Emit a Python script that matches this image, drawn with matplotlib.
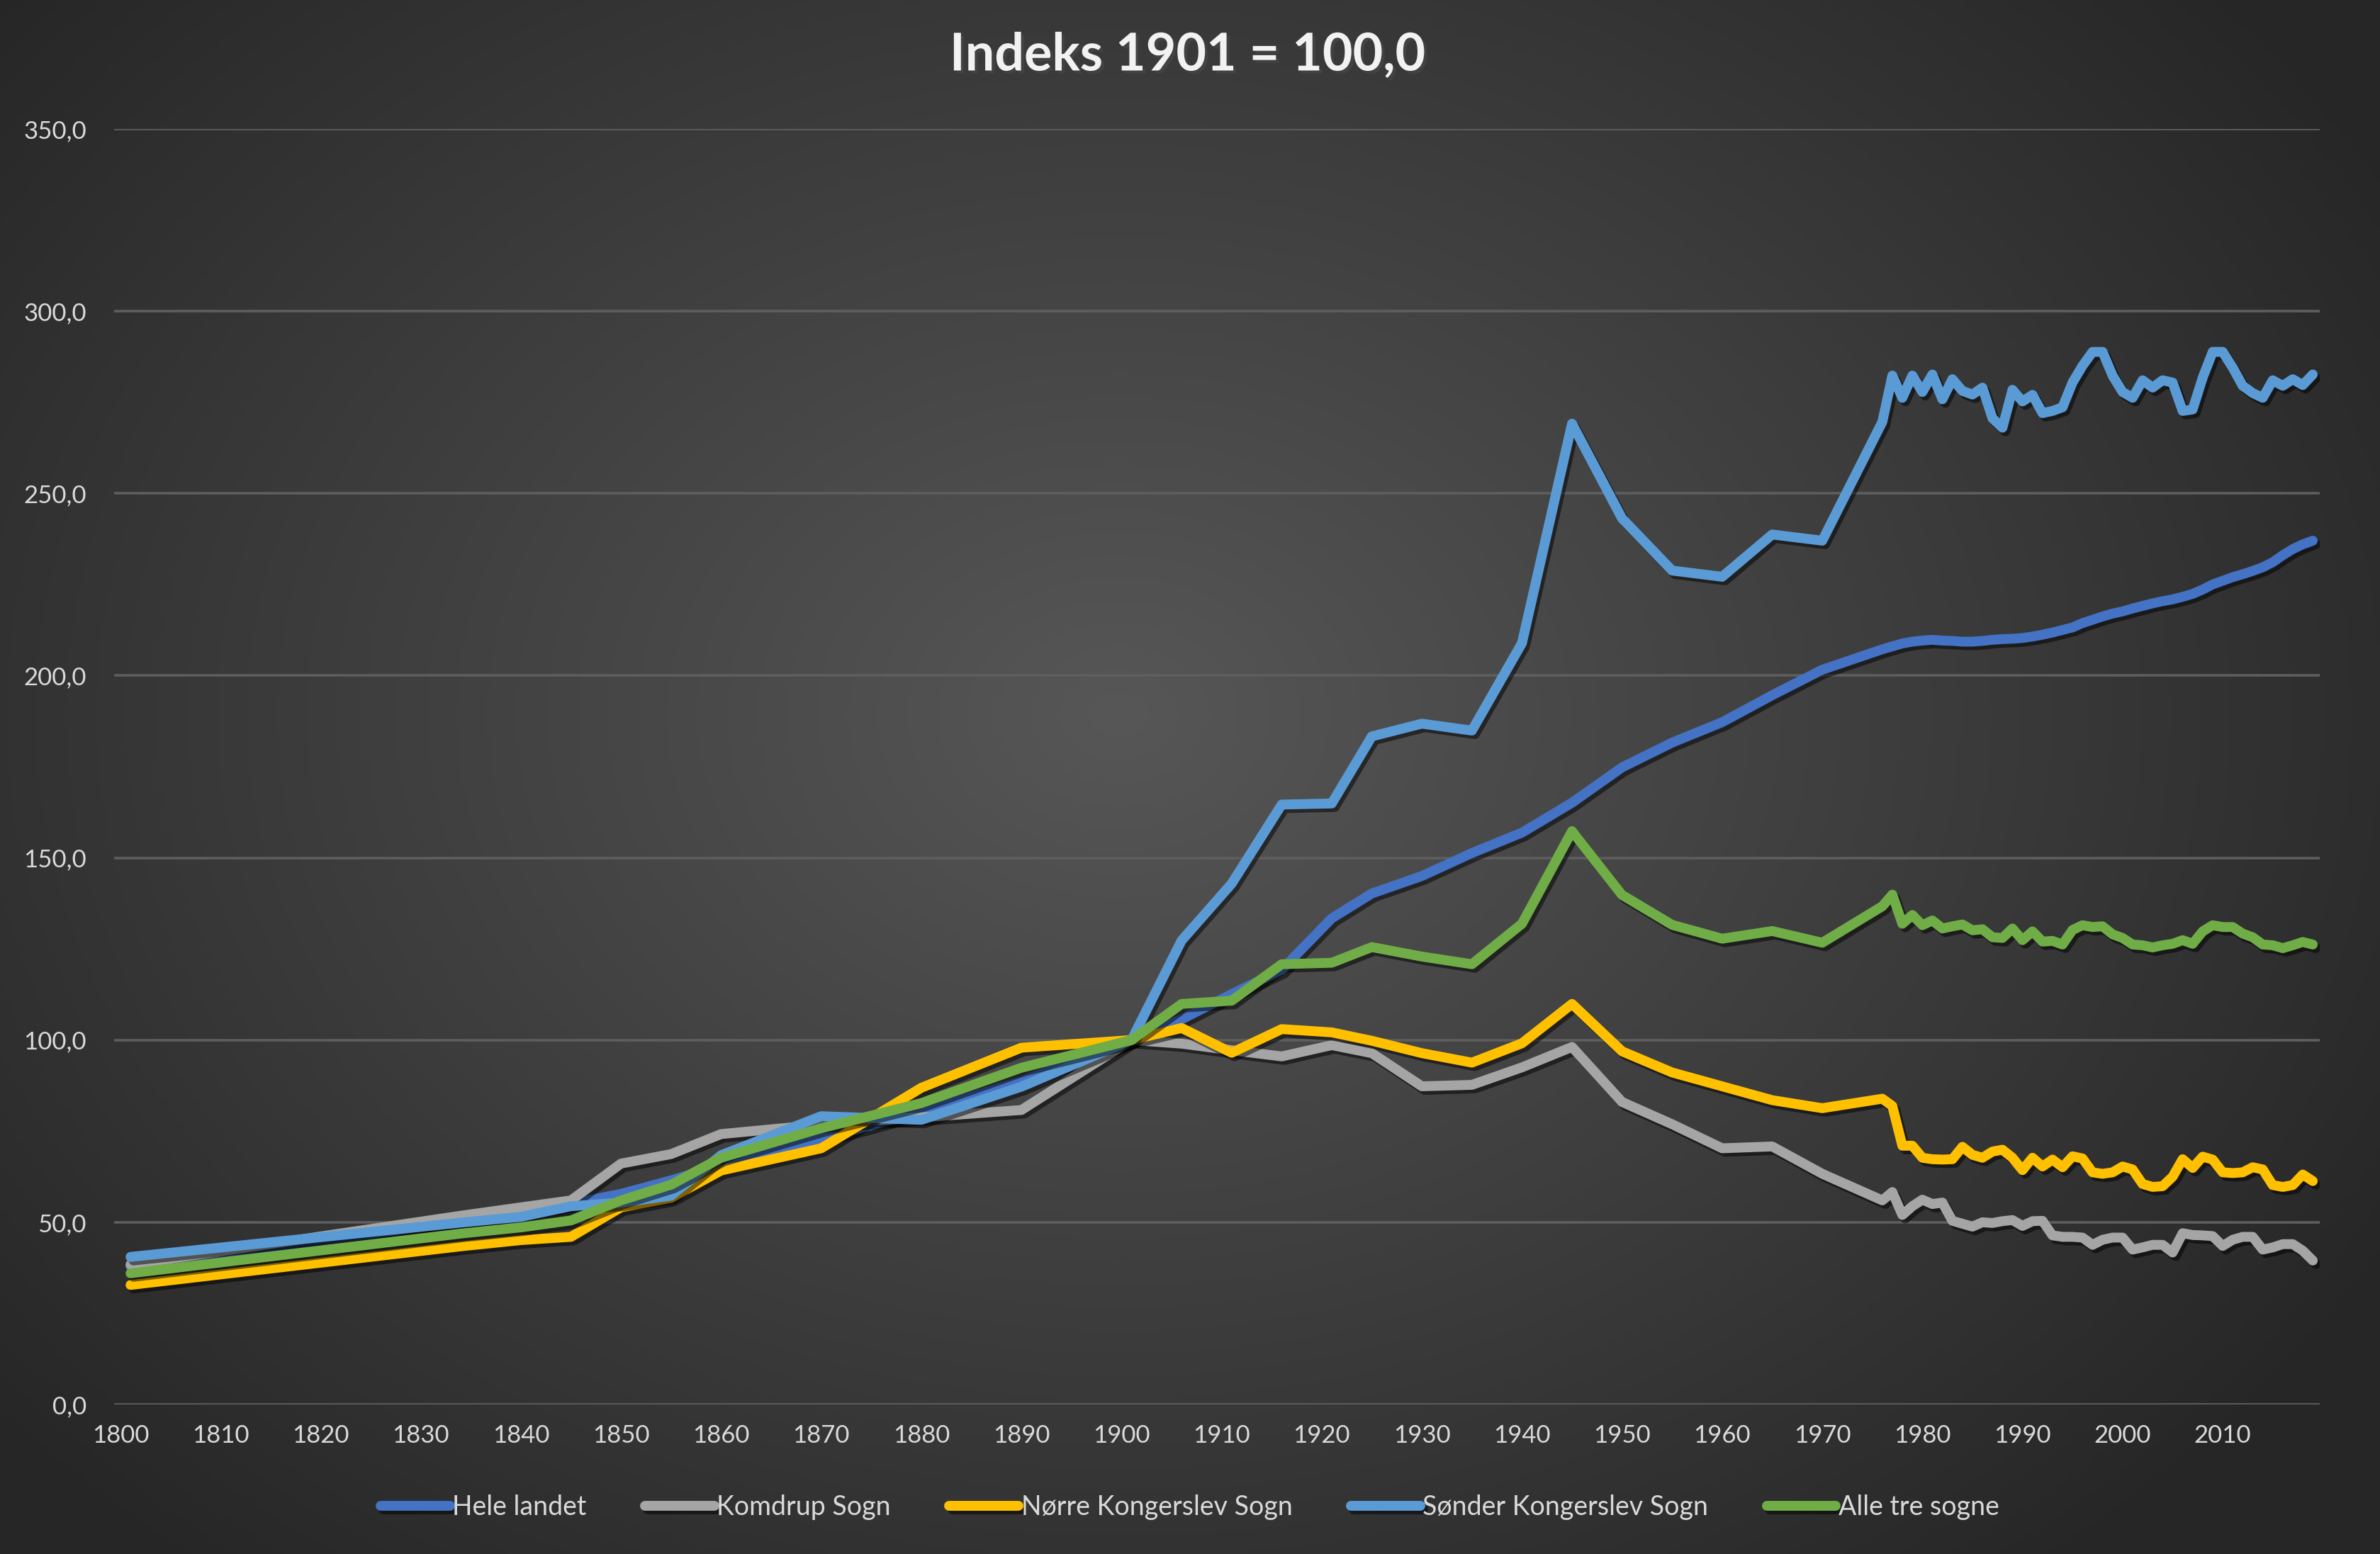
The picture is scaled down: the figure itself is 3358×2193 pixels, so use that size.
import matplotlib
matplotlib.use("Agg")
import matplotlib.pyplot as plt
import matplotlib.patheffects as pe
import numpy as np

plt.rcParams['font.family'] = ['Lato', 'DejaVu Sans']

# census years, then yearly from 1976
years = [1801, 1834, 1840, 1845, 1850, 1855, 1860, 1870, 1880, 1890,
         1901, 1906, 1911, 1916, 1921, 1925, 1930, 1935, 1940, 1945,
         1950, 1955, 1960, 1965, 1970] + list(range(1976, 2020))

hele_landet = [37.9, 50.3, 52.6, 55.1, 57.8, 61.5, 65.7, 72.9, 80.4, 88.7,
               100.0, 105.7, 112.6, 119.3, 133.4, 140.2, 145.0, 151.3, 156.9, 165.1,
               174.8, 181.6, 187.2, 194.6, 201.6,
               207.2, 208.0, 208.8, 209.3, 209.6, 209.8, 209.6, 209.5, 209.3, 209.3,
               209.5, 209.8, 210.0, 210.1, 210.3, 210.7, 211.2, 211.8, 212.5, 213.2,
               214.4, 215.3, 216.2, 217.0, 217.6, 218.4, 219.1, 219.8, 220.4, 220.9,
               221.6, 222.4, 223.6, 225.0, 226.0, 227.0, 227.8, 228.7, 229.7, 231.1,
               233.0, 234.7, 236.0, 237.0]

komdrup = [38.4, 51.8, 54.1, 56.0, 66.1, 68.7, 74.2, 76.8, 78.8, 80.8,
           100.0, 99.0, 97.2, 95.5, 98.6, 96.4, 87.3, 87.7, 92.5, 98.1,
           83.0, 76.9, 70.3, 70.8, 63.3,
           56.0, 58.3, 52.0, 54.4, 56.2, 55.0, 55.4, 50.4, 49.6, 48.8,
           50.0, 49.8, 50.3, 50.6, 49.0, 50.3, 50.4, 46.4, 46.0, 46.0,
           45.8, 43.8, 45.2, 45.8, 45.8, 42.5, 43.1, 43.8, 43.8, 41.7,
           47.0, 46.5, 46.4, 46.2, 43.5, 45.2, 46.0, 46.0, 42.5, 43.1,
           44.0, 44.0, 42.2, 39.5]

norre = [32.8, 43.4, 45.1, 46.0, 54.1, 56.7, 64.2, 70.3, 86.9, 97.9,
         100.0, 103.3, 96.5, 103.0, 102.1, 99.8, 96.4, 93.8, 99.1, 109.9,
         96.9, 91.1, 87.3, 83.5, 81.3,
         83.9, 81.9, 71.0, 71.0, 67.7, 67.3, 67.2, 67.3, 70.7, 68.5,
         67.7, 69.4, 69.9, 67.7, 64.3, 67.7, 65.3, 67.2, 65.1, 68.1,
         67.5, 63.7, 63.3, 63.7, 65.3, 64.5, 60.5, 59.7, 59.9, 62.5,
         67.3, 64.9, 68.0, 67.2, 63.7, 63.5, 63.7, 65.1, 64.5, 60.2,
         59.7, 60.2, 63.1, 61.3]

sonder = [40.5, 49.9, 51.5, 54.4, 55.4, 57.3, 68.4, 79.1, 78.1, 87.2,
          100.0, 127.3, 142.9, 164.6, 164.9, 183.3, 186.8, 184.9, 208.9, 269.1,
          243.1, 228.8, 227.1, 238.7, 237.0,
          269.6, 282.3, 276.2, 282.3, 277.8, 282.6, 275.8, 281.3, 278.1, 277.1,
          279.0, 270.6, 268.0, 278.4, 275.2, 277.0, 272.0, 272.6, 273.6, 280.4,
          285.0, 288.8, 288.8, 282.3, 277.8, 276.2, 281.0, 279.0, 281.0, 280.4,
          272.6, 273.0, 281.7, 288.8, 288.8, 284.5, 279.5, 277.5, 276.2, 281.0,
          279.5, 281.3, 279.7, 282.6]

alle = [36.0, 46.9, 48.6, 50.5, 56.0, 60.3, 67.7, 75.8, 82.7, 92.4,
        100.0, 109.9, 110.8, 120.8, 121.2, 125.5, 122.9, 120.8, 131.9, 157.3,
        139.8, 131.6, 127.8, 129.9, 126.7,
        136.7, 139.9, 131.9, 134.3, 131.5, 132.8, 130.6, 131.2, 131.7, 130.1,
        130.4, 128.2, 128.0, 130.6, 127.4, 129.8, 127.0, 127.2, 126.2, 130.2,
        131.5, 131.0, 131.2, 129.0, 128.0, 126.2, 126.0, 125.4, 126.0, 126.4,
        127.4, 126.4, 129.8, 131.5, 131.0, 131.0, 129.2, 128.2, 126.2, 126.0,
        125.2, 126.0, 126.9, 126.2]

series = [("Hele landet", hele_landet, "#4472C4"),
          ("Komdrup Sogn", komdrup, "#A5A5A5"),
          ("Nørre Kongerslev Sogn", norre, "#FFC000"),
          ("Sønder Kongerslev Sogn", sonder, "#5B9BD5"),
          ("Alle tre sogne", alle, "#70AD47")]

x_ticks = list(range(1800, 2011, 10))
y_ticks = [0, 50, 100, 150, 200, 250, 300, 350]
y_labels = [f"{v:.1f}".replace(".", ",") for v in y_ticks]

fig = plt.figure(figsize=(16.79, 10.965), dpi=200)

# radial background
bg = fig.add_axes([0, 0, 1, 1])
gx, gy = np.meshgrid(np.linspace(0, 1, 700), np.linspace(0, 1, 460))
d = np.sqrt(((gx - 0.47) / 0.62) ** 2 + ((gy - 0.46) / 0.72) ** 2)
t = np.clip(d, 0, 1)
shade = 0x57 / 255 * (1 - t) + 0x26 / 255 * t
bg.imshow(np.dstack([shade, shade, shade]), aspect="auto", extent=[0, 1, 0, 1])
bg.axis("off")

ax = fig.add_axes([0.0479, 0.0962, 0.9268, 0.8209])
ax.set_facecolor("none")

shadow = [pe.SimpleLineShadow(offset=(1.5, -1.8), shadow_color="black", alpha=0.5),
          pe.Normal()]
for name, vals, col in series:
    ax.plot(years, vals, color=col, lw=5, label=name,
            solid_capstyle="round", solid_joinstyle="round",
            path_effects=shadow)

ax.set_xlim(1799.35, 2019.7)
ax.set_ylim(0, 350)
ax.set_xticks(x_ticks)
ax.set_yticks(y_ticks)
ax.set_yticklabels(y_labels)
ax.yaxis.grid(True, color="#5e5e5e", lw=1.3)
ax.set_axisbelow(True)
for s in ax.spines.values():
    s.set_visible(False)
ax.tick_params(axis="both", length=0, colors="#D9D9D9", labelsize=12.5)
ax.tick_params(axis="y", pad=14)
ax.tick_params(axis="x", pad=10)

fig.text(0.499, 1 - 78 / 2193, "Indeks 1901 = 100,0", ha="center", va="center",
         fontsize=26.5, weight="bold", color="#F2F2F2",
         path_effects=[pe.SimplePatchShadow(offset=(1.5, -1.5), alpha=0.6),
                       pe.Normal()])

handles, labels = ax.get_legend_handles_labels()
fig.legend(handles, labels, loc="center", bbox_to_anchor=(0.500, 1 - 2127 / 2193),
           ncol=5, frameon=False, handlelength=2.6, handletextpad=0.1,
           columnspacing=2.2, fontsize=13.5, labelcolor="#D9D9D9")

fig.savefig("out.png", dpi=200)
